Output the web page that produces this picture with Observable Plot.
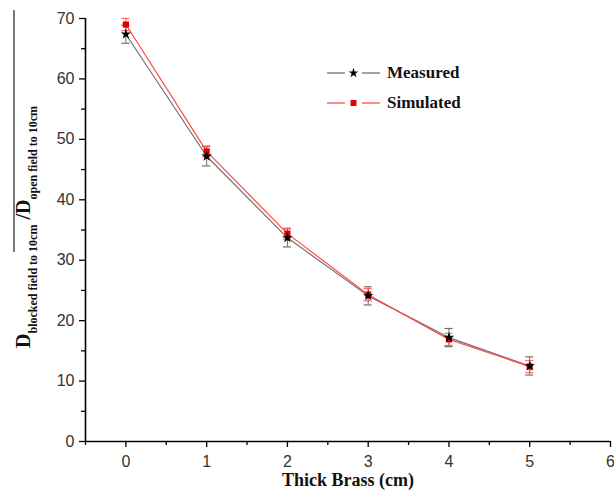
<!DOCTYPE html>
<html>
<head>
<meta charset="utf-8">
<script src="https://cdn.jsdelivr.net/npm/d3@7"></script>
<script src="https://cdn.jsdelivr.net/npm/@observablehq/plot@0.6"></script>
<style>
  html, body { margin: 0; padding: 0; background: #fff; }
  #wrap { position: relative; width: 614px; height: 496px; overflow: hidden; }
  #legend { position: absolute; left: 325px; top: 58px; font-family: "Liberation Serif", "DejaVu Serif", serif; font-weight: bold; font-size: 17px; color: #111; }
  #legend .row { display: flex; align-items: center; height: 30px; }
  #legend svg { margin-right: 4px; }
</style>
</head>
<body>
<div id="wrap"></div>
<script>
// Data
const thickness = [0, 1, 2, 3, 4, 5];
const measured = [67.4, 47.2, 33.7, 24.1, 17.2, 12.5];
const measuredErr = [1.5, 1.6, 1.5, 1.5, 1.5, 1.5];
const simulated = [69.0, 48.0, 34.4, 24.3, 16.9, 12.4];
const simulatedErr = [1.0, 0.9, 0.9, 1.0, 1.0, 1.0];
const xTicks = [0, 1, 2, 3, 4, 5, 6];
const xMinorTicks = [-0.5, 0.5, 1.5, 2.5, 3.5, 4.5, 5.5];
const yTicks = [0, 10, 20, 30, 40, 50, 60, 70];
const yMinorTicks = [5, 15, 25, 35, 45, 55, 65];

const meas = thickness.map((x, i) => ({x, y: measured[i], e: measuredErr[i]}));
const sim = thickness.map((x, i) => ({x, y: simulated[i], e: simulatedErr[i]}));

const gray = "#707070";
const red = "#ff4a4a";
const cap = 0.05;

const tickFont = {fontSize: 16, fontFamily: "'Liberation Sans', Arial, sans-serif"};

const plot = Plot.plot({
  width: 614,
  height: 496,
  marginLeft: 85,
  marginRight: 4,
  marginTop: 18,
  marginBottom: 55,
  style: {background: "#fff", color: "#222", ...tickFont, overflow: "visible"},
  x: {domain: [-0.5, 6]},
  y: {domain: [0, 70]},
  marks: [
    // axes
    Plot.axisX({ticks: xTicks, tickSize: 6, tickPadding: 8, label: null, tickFormat: d => String(d), stroke: "#000", strokeWidth: 1.3, fill: "#333", fontSize: 16}),
    Plot.axisX({ticks: xMinorTicks, tickSize: 4, text: null, label: null, stroke: "#000", strokeWidth: 1.3}),
    Plot.axisY({ticks: yTicks, tickSize: 6, tickPadding: 5, label: null, stroke: "#000", strokeWidth: 1.3, fill: "#333", fontSize: 16}),
    Plot.axisY({ticks: yMinorTicks, tickSize: 4, text: null, label: null, stroke: "#000", strokeWidth: 1.3}),
    Plot.ruleY([0], {stroke: "#000", strokeWidth: 1.6}),
    Plot.ruleX([-0.5], {stroke: "#000", strokeWidth: 1.6}),
    // measured
    Plot.line(meas, {x: "x", y: "y", stroke: gray, strokeWidth: 1.2}),
    Plot.ruleX(meas, {x: "x", y1: d => d.y - d.e, y2: d => d.y + d.e, stroke: gray, strokeWidth: 1}),
    Plot.ruleY(meas, {x1: d => d.x - cap, x2: d => d.x + cap, y: d => d.y - d.e, stroke: gray, strokeWidth: 1.2}),
    Plot.ruleY(meas, {x1: d => d.x - cap, x2: d => d.x + cap, y: d => d.y + d.e, stroke: gray, strokeWidth: 1.2}),
    // simulated
    Plot.line(sim, {x: "x", y: "y", stroke: red, strokeWidth: 1.2}),
    Plot.ruleX(sim, {x: "x", y1: d => d.y - d.e, y2: d => d.y + d.e, stroke: red, strokeWidth: 1, strokeOpacity: 0.8}),
    Plot.ruleY(sim, {x1: d => d.x - cap, x2: d => d.x + cap, y: d => d.y - d.e, stroke: red, strokeWidth: 1.2, strokeOpacity: 0.8}),
    Plot.ruleY(sim, {x1: d => d.x - cap, x2: d => d.x + cap, y: d => d.y + d.e, stroke: red, strokeWidth: 1.2, strokeOpacity: 0.8}),
    Plot.dot(sim, {x: "x", y: "y", symbol: "square", r: 3.5, fill: "#e00000", stroke: "none"}),
    Plot.dot(meas, {x: "x", y: "y", symbol: "star", r: 3.3, fill: "#000", stroke: "none"}),
    // x label
    Plot.text(["Thick Brass (cm)"], {frameAnchor: "bottom", dy: 44, text: d => d, fontFamily: "'Liberation Serif', serif", fontWeight: "bold", fontSize: 18, fill: "#111"})
  ]
});

// y label with subscripts
const svg = d3.select(plot);
const serif = "'Liberation Serif', 'DejaVu Serif', serif";
const lab = svg.append("g").attr("transform", "translate(30,348) rotate(-90)")
  .attr("font-family", serif).attr("font-weight", "bold").attr("fill", "#111")
  .attr("text-anchor", "start");
const t = lab.append("text").attr("x", 0).attr("y", 0).attr("text-anchor", "start");
t.append("tspan").attr("font-size", 20).text("D");
t.append("tspan").attr("font-size", 12).attr("dy", 7).text("blocked field to 10cm");
t.append("tspan").attr("font-size", 20).attr("dy", -7).text(" /D");
t.append("tspan").attr("font-size", 12).attr("dy", 7).text("open field to 10cm");
// overline decoration
lab.append("line").attr("x1", 96).attr("x2", 338).attr("y1", -16).attr("y2", -16)
  .attr("stroke", "#222").attr("stroke-width", 1.2);

document.getElementById("wrap").appendChild(plot);

// legend
const legend = document.createElement("div");
legend.id = "legend";
function row(label, color, symbol, fill) {
  const r = document.createElement("div");
  r.className = "row";
  const s = d3.create("svg").attr("width", 58).attr("height", 16);
  s.append("line").attr("x1", 2).attr("x2", 20).attr("y1", 8).attr("y2", 8).attr("stroke", color).attr("stroke-width", 1.3);
  s.append("line").attr("x1", 37).attr("x2", 55).attr("y1", 8).attr("y2", 8).attr("stroke", color).attr("stroke-width", 1.3);
  s.append("path").attr("d", d3.symbol(symbol, symbol === d3.symbolStar ? 30 : 36)()).attr("transform", "translate(28.5,8)").attr("fill", fill);
  r.appendChild(s.node());
  const sp = document.createElement("span");
  sp.textContent = label;
  r.appendChild(sp);
  return r;
}
legend.appendChild(row("Measured", gray, d3.symbolStar, "#000"));
legend.appendChild(row("Simulated", red, d3.symbolSquare, "#e00000"));
document.getElementById("wrap").appendChild(legend);
</script>
</body>
</html>
